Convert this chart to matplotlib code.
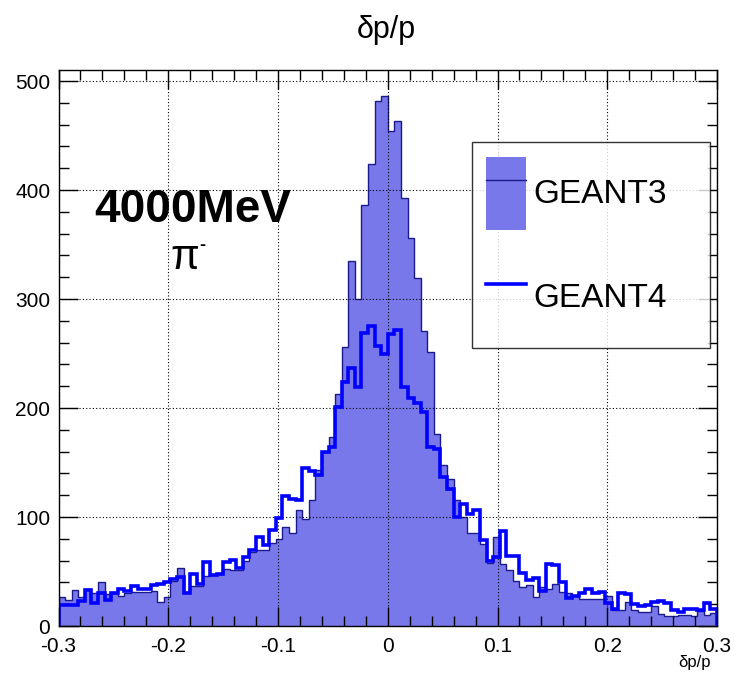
import numpy as np
import matplotlib
matplotlib.use('Agg')
import matplotlib.pyplot as plt
from matplotlib.patches import Patch
from matplotlib.lines import Line2D
from matplotlib.ticker import MultipleLocator

plt.rcParams['font.family'] = ['Liberation Sans', 'DejaVu Sans']

# 100 bins from -0.3 to 0.3
x_min, x_max, n_bins = -0.3, 0.3, 100

geant3 = [27, 24, 33, 27, 34, 30, 40, 29, 30, 28,
          30, 31, 31, 31, 32, 22, 27, 41, 53, 31,
          37, 37, 46, 47, 48, 52, 51, 51, 60, 68,
          70, 70, 76, 80, 91, 85, 106, 98, 116, 143,
          160, 173, 213, 256, 335, 300, 386, 424, 482, 486,
          454, 463, 393, 356, 319, 271, 251, 176, 148, 135,
          116, 100, 85, 85, 75, 58, 82, 57, 51, 41,
          36, 38, 27, 36, 34, 39, 31, 30, 28, 25,
          25, 25, 25, 28, 15, 15, 22, 15, 13, 13,
          18, 11, 9, 9, 10, 10, 9, 14, 10, 12]

geant4 = [19, 19, 19, 23, 33, 21, 30, 24, 30, 34,
          32, 37, 34, 34, 38, 39, 40, 43, 45, 30,
          48, 39, 59, 47, 48, 59, 61, 53, 63, 70,
          82, 74, 88, 99, 119, 117, 116, 145, 142, 139,
          160, 164, 201, 224, 237, 219, 269, 275, 257, 250,
          268, 272, 219, 209, 205, 196, 164, 162, 137, 126,
          100, 112, 103, 106, 79, 60, 63, 87, 64, 64,
          49, 42, 44, 32, 57, 56, 40, 26, 28, 30,
          34, 30, 31, 21, 16, 30, 29, 20, 18, 19,
          22, 23, 21, 15, 13, 16, 16, 15, 21, 16]

labels = ['GEANT3', 'GEANT4']
xtick_vals = [-0.3, -0.2, -0.1, 0.0, 0.1, 0.2, 0.3]
xtick_labels = ['-0.3', '-0.2', '-0.1', '0', '0.1', '0.2', '0.3']
fill_color = '#7878ea'
edge_color = '#1a1a8c'
line_color = '#0000ff'

edges = np.linspace(x_min, x_max, n_bins + 1)

fig = plt.figure(figsize=(7.35, 6.77), dpi=100)
ax = fig.add_axes([0.0796, 0.0753, 0.896, 0.821])

ax.stairs(geant3, edges, fill=True, facecolor=fill_color, edgecolor='none', zorder=1)
ax.stairs(geant3, edges, color=edge_color, linewidth=1.0, zorder=2)
ax.stairs(geant4, edges, color=line_color, linewidth=2.6, zorder=4)

ax.set_xlim(x_min, x_max)
ax.set_ylim(0, 510)

# ROOT style ticks / grid
ax.set_xticks(xtick_vals)
ax.set_xticklabels(xtick_labels)
ax.xaxis.set_minor_locator(MultipleLocator(0.02))
ax.yaxis.set_major_locator(MultipleLocator(100))
ax.yaxis.set_minor_locator(MultipleLocator(20))
ax.tick_params(which='both', direction='in', top=True, right=True, width=1, colors='black')
ax.tick_params(which='major', length=14, labelsize=15)
ax.tick_params(which='minor', length=7)
ax.tick_params(axis='x', which='major', pad=8)
ax.tick_params(axis='y', which='major', pad=6)
ax.grid(True, which='major', color='black', linestyle=(0, (1, 2)), linewidth=0.8, zorder=3)
ax.set_axisbelow(False)
for s in ax.spines.values():
    s.set_linewidth(1.0)
    s.set_zorder(5)

ax.set_xlabel('δp/p', fontsize=12)
ax.xaxis.set_label_coords(0.965, -0.052)
fig.text(0.525, 0.955, 'δp/p', ha='center', va='center', fontsize=22)

ax.text(0.055, 0.748, '4000MeV', transform=ax.transAxes, fontsize=33,
        fontweight='bold', ha='left', va='center')
ax.text(0.192, 0.663, 'π', transform=ax.transAxes, fontsize=30,
        ha='center', va='center')
ax.text(0.219, 0.684, '-', transform=ax.transAxes, fontsize=13,
        fontweight='bold', ha='center', va='center')

handles = [(Patch(facecolor=fill_color, edgecolor='none'),
            Line2D([], [], color=edge_color, linewidth=1.0)),
           Line2D([], [], color=line_color, linewidth=2.6)]
leg = ax.legend(handles, labels, loc='upper left',
                bbox_to_anchor=(0.628, 0.870, 0.361, 0.0), mode='expand',
                fontsize=24, frameon=True, fancybox=False, edgecolor='black',
                handlelength=1.2, handleheight=2.99, handletextpad=0.2,
                labelspacing=0.93, borderpad=0.43, borderaxespad=0.0)
leg.get_frame().set_linewidth(1.0)
leg.set_zorder(6)

fig.savefig('out.png', dpi=100, facecolor='white')
